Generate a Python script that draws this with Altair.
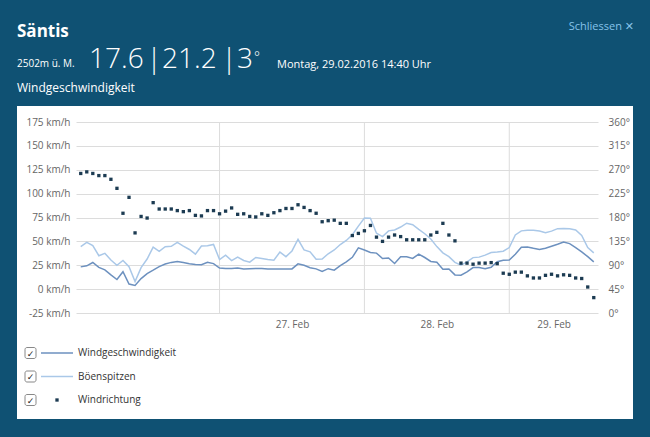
import altair as alt
import pandas as pd

# ---------------- data ----------------
speed = [23.3, 24.4, 27.9, 22.8, 20.1, 14.9, 10.1, 18.2, 5.3, 3.8,
         11.0, 16.3, 19.8, 23.6, 26.3, 28.0, 29.0, 27.8, 26.5, 25.7,
         25.5, 28.2, 26.7, 22.1, 21.6, 21.6, 22.0, 21.2, 21.4, 21.7,
         21.6, 21.2, 21.2, 21.2, 21.2, 21.2, 26.5, 25.0, 22.4, 21.2,
         18.6, 21.4, 19.8, 24.6, 28.6, 33.3, 43.2, 40.9, 38.4, 37.7,
         32.1, 32.6, 26.9, 33.9, 33.9, 32.1, 36.7, 33.1, 29.0, 28.2,
         20.7, 21.0, 14.9, 14.5, 18.0, 22.6, 22.6, 21.4, 22.8, 28.7,
         30.2, 30.5, 36.5, 43.9, 44.2, 42.8, 41.6, 42.8, 44.9, 47.0,
         49.3, 47.7, 43.5, 39.0, 34.0, 28.6]

gust = [44.5, 49.0, 45.5, 35.0, 37.5, 30.5, 25.0, 30.0, 23.5, 8.0,
        22.5, 31.5, 44.0, 39.5, 44.5, 44.8, 49.0, 45.0, 41.5, 36.7,
        45.2, 45.5, 46.8, 31.0, 35.6, 29.8, 33.5, 30.0, 28.2, 33.1,
        32.0, 31.0, 30.3, 38.8, 34.0, 40.0, 52.2, 41.0, 39.0, 31.4,
        31.5, 37.0, 41.0, 46.7, 51.0, 57.0, 66.0, 74.5, 74.3, 58.5,
        55.0, 61.0, 62.0, 65.0, 69.0, 67.5, 62.5, 58.0, 52.5, 44.5,
        38.0, 34.0, 28.0, 25.0, 28.6, 33.0, 33.5, 35.6, 38.3, 38.8,
        39.7, 43.5, 56.7, 61.0, 61.6, 61.6, 60.8, 59.0, 60.7, 63.3,
        63.5, 63.2, 62.0, 56.2, 43.5, 38.0]

direction = [263, 266, 263, 259, 259, 252, 235, 188, 218, 151,
             182, 179, 208, 196, 196, 196, 193, 191, 193, 184,
             183, 193, 193, 187, 192, 198, 186, 187, 182, 181,
             187, 184, 189, 193, 197, 197, 204, 199, 193, 188,
             172, 174, 175, 169, 169, 146, 150, 155, 165, 143,
             135, 143, 147, 144, 138, 138, 138, 138, 147, 152,
             169, 147, 136, 94, 94, 92, 94, 94, 95, 93,
             75, 73, 77, 77, 70, 66, 66, 71, 73, 70,
             72, 71, 66, 65, 49, 29]

series_names = ["Windgeschwindigkeit", "Böenspitzen", "Windrichtung"]
first_time = "2016-02-26 01:00"
day_starts = ["2016-02-27", "2016-02-28", "2016-02-29"]
x_start = "2016-02-26 00:13"
x_end = "2016-02-29 14:42"
speed_ticks = [-25, 0, 25, 50, 75, 100, 125, 150, 175]
dir_ticks = [0, 45, 90, 135, 180, 225, 270, 315, 360]

header_station = "Säntis"
header_alt = "2502m ü. M."
header_speed = "17.6"
header_gust = "21.2"
header_dir = "3"
header_date = "Montag, 29.02.2016 14:40 Uhr"
header_sub = "Windgeschwindigkeit"
close_text = "Schliessen ✕"

# ---------------- styling ----------------
W, H = 522, 191
BLUE = "#0f5173"
C_SPEED = "#6d91bf"
C_GUST = "#aac8e8"
C_DIR = "#1c3b52"
GRID = "#dcdcdc"
LABEL = "#666666"
FONT = "Open Sans"


def ms(s):
    return int(pd.Timestamp(s).value // 1_000_000)


times = pd.date_range(first_time, periods=len(speed), freq="h")
tstr = times.strftime("%Y-%m-%dT%H:%M:%SZ")

long_df = pd.DataFrame({
    "t": list(tstr) * 2,
    "v": speed + gust,
    "series": [series_names[0]] * len(speed) + [series_names[1]] * len(gust),
})
dir_df = pd.DataFrame({"t": tstr, "d": direction})
days_df = pd.DataFrame({"day": [pd.Timestamp(d).strftime("%Y-%m-%dT%H:%M:%SZ") for d in day_starts]})

# label positions: centred between day boundaries (last one up to axis end)
bounds = [pd.Timestamp(d) for d in day_starts] + [pd.Timestamp(x_end)]
label_vals = [int(((bounds[i] + (bounds[i + 1] - bounds[i]) / 2).value) // 1_000_000)
              for i in range(len(day_starts))]

x_scale = alt.Scale(type="utc", domain=[ms(x_start), ms(x_end)], nice=False)
x_axis = alt.Axis(values=label_vals, labelExpr="utcFormat(datum.value, '%d. %b')",
                  title=None, grid=False, ticks=False, domain=False,
                  labelPadding=6, labelFont=FONT, labelFontSize=10, labelColor=LABEL)


def X(field):
    return alt.X(field, type="temporal", scale=x_scale, axis=x_axis)


y_left = alt.Y("v:Q", scale=alt.Scale(domain=[-25, 175], nice=False, zero=False),
               axis=alt.Axis(values=speed_ticks, labelExpr="datum.value + ' km/h'",
                             orient="left", title=None, grid=True, gridColor=GRID,
                             domain=False, ticks=False, labelPadding=6, labelFont=FONT,
                             labelFontSize=10, labelColor=LABEL))

vgrid = alt.Chart(days_df).mark_rule(color=GRID, strokeWidth=1).encode(
    x=X("day"), y=alt.value(0), y2=alt.value(H))

lines = alt.Chart(long_df).mark_line(strokeWidth=1.5, interpolate="linear").encode(
    x=X("t"), y=y_left,
    color=alt.Color("series:N", scale=alt.Scale(domain=series_names[:2], range=[C_SPEED, C_GUST]),
                    legend=None),
    detail="series:N")

left_layer = alt.layer(vgrid, lines)

dots = alt.Chart(dir_df).mark_square(size=11, color=C_DIR, opacity=1).encode(
    x=X("t"),
    y=alt.Y("d:Q", scale=alt.Scale(domain=[0, 360], nice=False, zero=False),
            axis=alt.Axis(values=dir_ticks, labelExpr="datum.value + '°'",
                          orient="right", title=None, grid=False, domain=False,
                          ticks=False, labelPadding=10, labelFont=FONT,
                          labelFontSize=10, labelColor=LABEL)))

one = pd.DataFrame({"k": [0]})


def band(x1, x2, y1, y2, color=BLUE):
    return alt.Chart(one).mark_rect(color=color).encode(
        x=alt.value(x1), x2=alt.value(x2), y=alt.value(y1), y2=alt.value(y2))


def txt(text, x, y, size, color="white", weight="normal", align="left", font=FONT):
    return alt.Chart(one).mark_text(align=align, baseline="alphabetic", fontSize=size,
                                    color=color, fontWeight=weight, font=font).encode(
        x=alt.value(x), y=alt.value(y), text=alt.value(text))


# dark frame around the white panel (page coords offset by plot origin 76,122)
frame = [
    band(-76, 574, -122, -16),
    band(-76, -59, -16, 297),
    band(557, 574, -16, 297),
    band(-76, 574, 297, 316),
]

header = [
    txt(header_station, -59, -85, 17, weight="bold"),
    txt(close_text, 558, -92, 11, color="#86c3ea", align="right", font="Open Sans, DejaVu Sans"),
    txt(header_alt, -59, -55, 10),
    txt(header_speed, 13, -54, 28, weight=300),
    txt("|", 78, -54, 28, weight=300, align="center"),
    txt(header_gust, 86, -54, 28, weight=300),
    txt("|", 153, -54, 28, weight=300, align="center"),
    txt(header_dir, 161, -54, 28, weight=300),
    txt("°", 178, -60, 14, weight=300),
    txt(header_date, 201, -54, 11),
    txt(header_sub, -59, -30, 12),
]

# legend (checkbox rows)
legend = []
rows = [231, 254.5, 278]
for i, yy in enumerate(rows):
    legend.append(alt.Chart(one).mark_rect(fill="white", stroke="#888888", strokeWidth=1,
                                           cornerRadius=2).encode(
        x=alt.value(-51), x2=alt.value(-40), y=alt.value(yy - 5.5), y2=alt.value(yy + 5.5)))
    legend.append(alt.Chart(one).mark_text(fontSize=9, color="#222222", font="DejaVu Sans",
                                           baseline="middle", align="center").encode(
        x=alt.value(-45.5), y=alt.value(yy + 0.5), text=alt.value("✓")))
    legend.append(alt.Chart(one).mark_text(fontSize=10, color="#333333", font=FONT,
                                           baseline="middle", align="left").encode(
        x=alt.value(2), y=alt.value(yy), text=alt.value(series_names[i])))
legend.append(alt.Chart(one).mark_rule(color=C_SPEED, strokeWidth=1.5).encode(
    x=alt.value(-35), x2=alt.value(-3), y=alt.value(rows[0])))
legend.append(alt.Chart(one).mark_rule(color=C_GUST, strokeWidth=1.5).encode(
    x=alt.value(-35), x2=alt.value(-3), y=alt.value(rows[1])))
legend.append(alt.Chart(one).mark_square(size=11, color=C_DIR, opacity=1).encode(
    x=alt.value(-19), y=alt.value(rows[2])))

chart = alt.layer(
    left_layer, dots, *frame, *header, *legend
).resolve_scale(y="independent").properties(
    width=W, height=H,
    autosize=alt.AutoSizeParams(type="none"),
    padding={"left": 76, "top": 122, "right": 52, "bottom": 124},
    background="white",
).configure_view(stroke=None)

chart.save("out.html", embed_options={"renderer": "svg", "actions": False})
